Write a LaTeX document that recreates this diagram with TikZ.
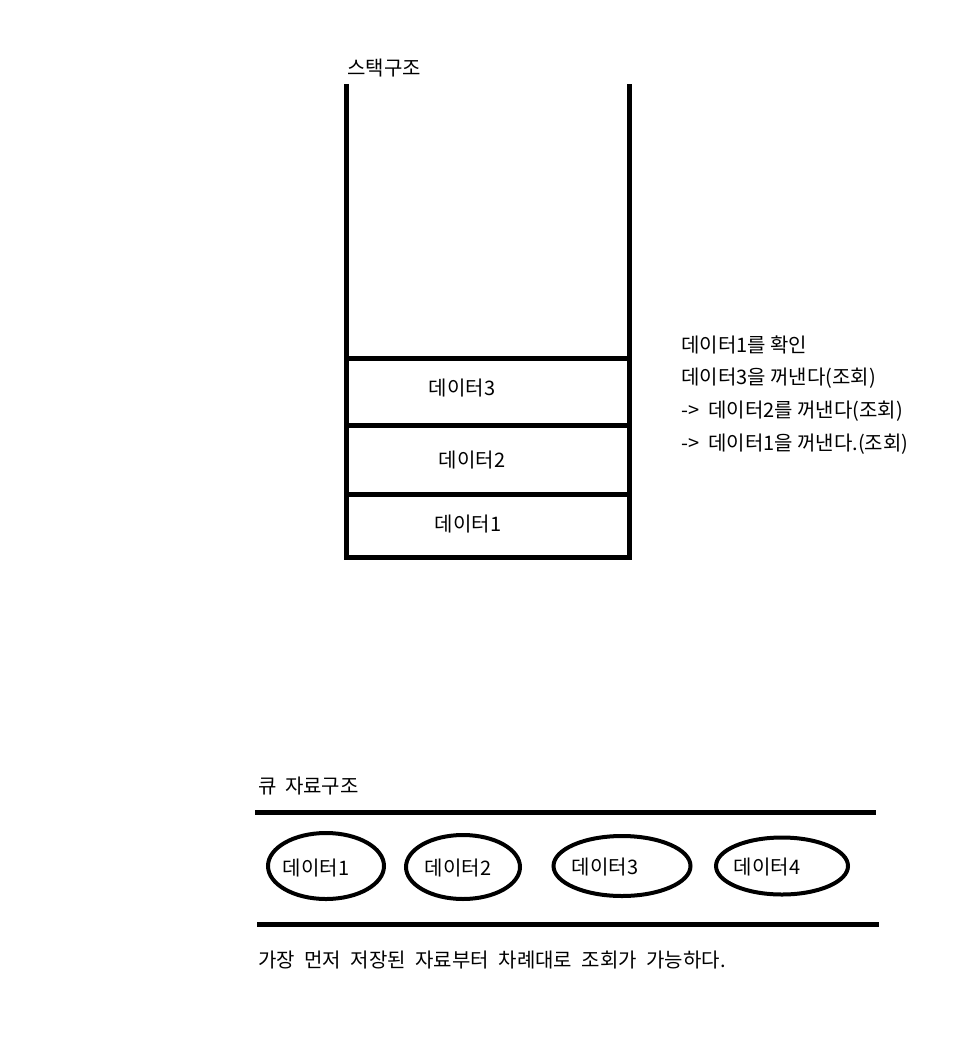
\documentclass[tikz,border=0pt]{standalone}
\usepackage{fontspec}
\setmainfont{Noto Sans CJK KR}
\usepackage{tikz}
\usetikzlibrary{shapes.geometric}

\begin{document}
\begin{tikzpicture}[x=1pt, y=-1pt]
    \tikzstyle{txt} += [inner sep=0pt, font=\fontsize{20}{22}\selectfont];
    \tikzstyle{wall} += [line width=5pt];
    \tikzstyle{cell} += [draw=black, line width=4pt, ellipse, inner sep=0pt];
    \useasboundingbox (0,0) rectangle (956,1038);

    % stack
    \node (stk) at (347, 68) [txt, anchor=west]{스택구조};
    \draw[wall] (346.5, 84) -- (346.5, 557.5) -- (629.5, 557.5) -- (629.5, 84);
    \draw[wall] (346.5, 358) -- (629.5, 358);
    \draw[wall] (346.5, 425.5) -- (629.5, 425.5);
    \draw[wall] (346.5, 494.5) -- (629.5, 494.5);
    \node (s3) at (462, 388) [txt]{데이터3};
    \node (s2) at (472, 460) [txt]{데이터2};
    \node (s1) at (468, 524) [txt]{데이터1};

    \node (n1) at (681, 345) [txt, anchor=west]{데이터1를 확인};
    \node (n2) at (681, 378) [txt, anchor=west]{데이터3을 꺼낸다(조회)};
    \node (n3) at (681, 411) [txt, anchor=west]{->\ \ 데이터2를 꺼낸다(조회)};
    \node (n4) at (681, 444) [txt, anchor=west]{->\ \ 데이터1을 꺼낸다.(조회)};

    % queue
    \node (que) at (258, 786) [txt, anchor=west]{큐\hspace{4pt} 자료구조};
    \draw[wall] (255, 812.5) -- (876, 812.5);
    \draw[wall] (257, 924) -- (879, 924);
    \node (e1) at (326, 866) [cell, minimum width=116pt, minimum height=66pt]{};
    \node (e2) at (463, 867) [cell, minimum width=114pt, minimum height=64pt]{};
    \node (e3) at (622, 866) [cell, minimum width=137pt, minimum height=60pt]{};
    \node (e4) at (782, 866) [cell, minimum width=132pt, minimum height=57pt]{};
    \node (q1) at (316, 868) [txt]{데이터1};
    \node (q2) at (458, 868) [txt]{데이터2};
    \node (q3) at (605, 867) [txt]{데이터3};
    \node (q4) at (767, 867) [txt]{데이터4};

    \node (note) at (258, 960) [txt, anchor=west]{\spaceskip=9.5pt 가장 먼저 저장된 자료부터 차례대로 조회가 가능하다.};
\end{tikzpicture}
\end{document}
